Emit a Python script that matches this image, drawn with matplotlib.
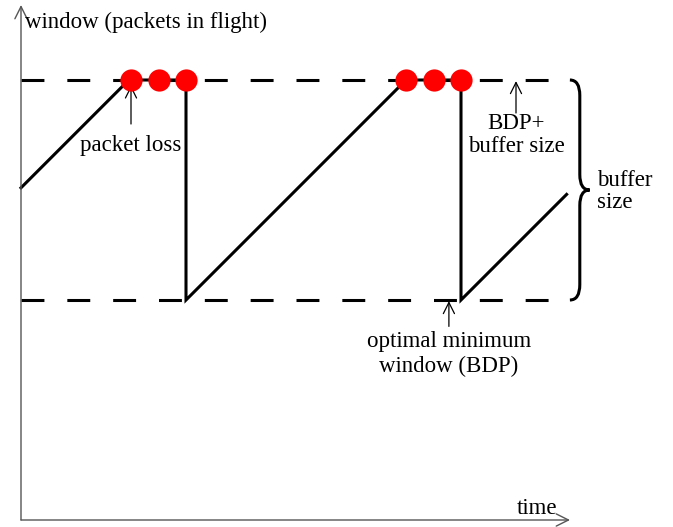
import numpy as np
import matplotlib.pyplot as plt
from matplotlib.path import Path
from matplotlib.patches import PathPatch

plt.rcParams['font.family'] = ['Liberation Serif', 'DejaVu Serif']
plt.rcParams['lines.scale_dashes'] = False

# data (time units, window units)
bdp = 10.0
top = 20.0
saw_t = [0.0, 4.9, 7.5, 7.5, 17.5, 20.0, 20.0, 24.8]
saw_w = [15.1, 20.0, 20.0, 10.0, 20.0, 20.0, 10.0, 14.8]
loss_t = [5.0, 6.25, 7.5, 17.5, 18.75, 20.0]

PX = 22.0  # pixels per unit
fig = plt.figure(figsize=(6.73, 5.27), dpi=100)
ax = fig.add_axes([0, 0, 1, 1])
ax.set_xlim(-21 / PX, (673 - 21) / PX)
ax.set_ylim(-7 / PX, 520 / PX)
ax.axis("off")

# axes with arrows
axc = '#555555'
ax.annotate("", xy=(0, 515 / PX), xytext=(0, 0),
            arrowprops=dict(arrowstyle='->', color=axc, lw=1.0, mutation_scale=22,
                            shrinkA=0, shrinkB=0))
ax.annotate("", xy=(549 / PX, 0), xytext=(0, 0),
            arrowprops=dict(arrowstyle='->', color=axc, lw=1.0, mutation_scale=22,
                            shrinkA=0, shrinkB=0))

# dashed levels
for lvl in (bdp, top):
    ax.plot([0, 24.6], [lvl, lvl], color='black', lw=2.2, dashes=(16.5, 16.5),
            solid_capstyle='butt', dash_capstyle='butt')

# sawtooth
ax.plot(saw_t, saw_w, color='black', lw=2.2, solid_joinstyle='miter')

# loss dots
ax.plot(loss_t, [top] * len(loss_t), 'o', color='#ff0000', ms=16, mec='none', zorder=5)

# brace
bx, tip = 24.95, 0.9
h = tip * 0.5
ym = (bdp + top) / 2
verts = [(bx, top), (bx + h, top), (bx + h, top - 0.7),
         (bx + h, ym + 0.7), (bx + h, ym), (bx + tip, ym),
         (bx + tip, ym), (bx + h, ym), (bx + h, ym - 0.7),
         (bx + h, bdp + 0.7), (bx + h, bdp), (bx, bdp)]
codes = [Path.MOVETO, Path.CURVE3, Path.CURVE3, Path.LINETO, Path.CURVE3, Path.CURVE3,
         Path.MOVETO, Path.CURVE3, Path.CURVE3, Path.LINETO, Path.CURVE3, Path.CURVE3]
ax.add_patch(PathPatch(Path(verts, codes), fill=False, lw=2.2, color='black'))

fs = 16.5
arr = dict(arrowstyle='->', color='black', lw=0.9, mutation_scale=20, shrinkA=0, shrinkB=0)

ax.text(4 / PX, (520 - 22) / PX, "window (packets in flight)", fontsize=fs,
        ha='left', va='center')
ax.text(516 / PX, (520 - 508) / PX, "time", fontsize=fs, ha='center', va='center')

ax.annotate("", xy=(5.0, top - 0.25), xytext=(5.0, top - 2.0), arrowprops=arr)
ax.text(5.0, (520 - 145) / PX, "packet loss", fontsize=fs, ha='center', va='center')

ax.annotate("", xy=(22.5, top - 0.05), xytext=(22.5, top - 1.5), arrowprops=arr)
ax.text(22.5, (520 - 135) / PX, "BDP+\nbuffer size", fontsize=fs, ha='center',
        va='center', linespacing=1.12)

ax.annotate("", xy=(19.45, bdp - 0.05), xytext=(19.45, bdp - 1.2), arrowprops=arr)
ax.text(19.45, (520 - 354) / PX, "optimal minimum\nwindow (BDP)", fontsize=fs,
        ha='center', va='center', linespacing=1.25)

ax.text(576 / PX, ym - 0.05, "buffer\nsize", fontsize=fs, ha='left', va='center',
        linespacing=1.05)

fig.savefig("out.png", dpi=100)
